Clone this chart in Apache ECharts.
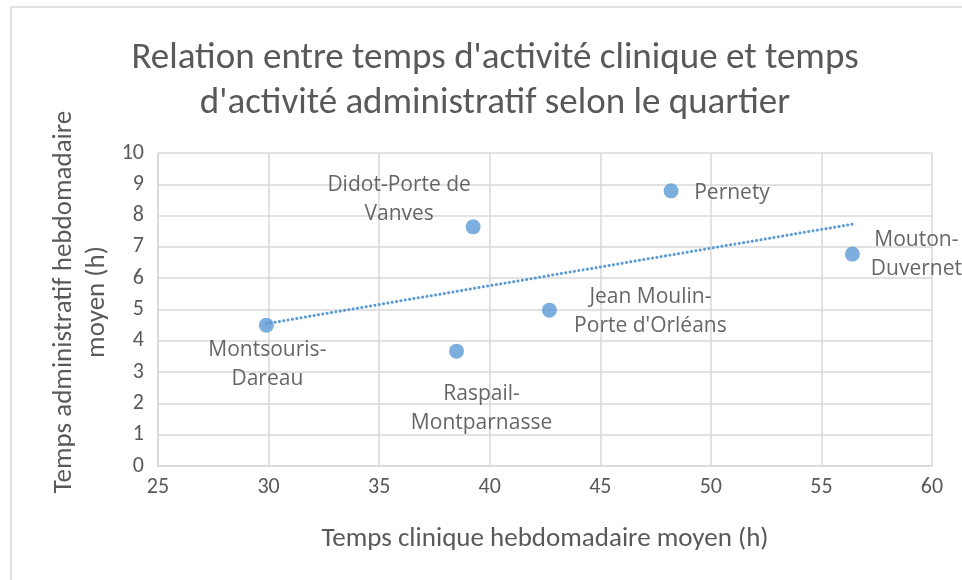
<!DOCTYPE html>
<html>
<head>
<meta charset="utf-8">
<script src="https://cdn.jsdelivr.net/npm/echarts@6/dist/echarts.min.js"></script>
<style>
html,body{margin:0;padding:0;background:#fff;}
#chart{width:962px;height:580px;}
</style>
</head>
<body>
<div id="chart"></div>
<script>
// Data
const quartiers = ["Montsouris-\nDareau", "Raspail-\nMontparnasse", "Didot-Porte de\nVanves", "Jean Moulin-\nPorte d'Orléans", "Pernety", "Mouton-\nDuvernet"];
const tempsClinique = [29.9, 38.5, 39.25, 42.7, 48.2, 56.4];
const tempsAdmin = [4.5, 3.67, 7.64, 4.98, 8.79, 6.77];
const xTicks = [25, 30, 35, 40, 45, 50, 55, 60];
const yTicks = [0, 1, 2, 3, 4, 5, 6, 7, 8, 9, 10];

// label placement (style only)
const labelOffsets = [[1, 39], [25, 57], [-74, -27], [101, 1], [61, 2], [64, 0]];

// linear trendline (least squares) from data
const n = tempsClinique.length;
const mx = tempsClinique.reduce((a, b) => a + b, 0) / n;
const my = tempsAdmin.reduce((a, b) => a + b, 0) / n;
let sxy = 0, sxx = 0;
for (let i = 0; i < n; i++) { sxy += (tempsClinique[i] - mx) * (tempsAdmin[i] - my); sxx += (tempsClinique[i] - mx) ** 2; }
const slope = sxy / sxx, icpt = my - slope * mx;
const xmin = Math.min(...tempsClinique), xmax = Math.max(...tempsClinique);
const trend = [[xmin, icpt + slope * xmin], [xmax, icpt + slope * xmax]];

const axisFont = "Carlito, 'Liberation Sans Narrow', 'Open Sans', sans-serif";
const labelFont = "'Open Sans', 'Noto Sans', sans-serif";
const gridColor = '#d9d9d9';
const textColor = '#595959';

const chart = echarts.init(document.getElementById('chart'), null, { renderer: 'canvas' });
chart.setOption({
  backgroundColor: '#fff',
  animation: false,
  graphic: [{
    type: 'rect', shape: { x: 11, y: 7, width: 980, height: 600 },
    style: { fill: 'none', stroke: gridColor, lineWidth: 1.5 }, silent: true, z: -1
  }],
  title: {
    text: "Relation entre temps d'activité clinique et temps\nd'activité administratif selon le quartier",
    left: 490, top: 31, textAlign: 'center',
    textStyle: { fontFamily: axisFont, fontSize: 37, fontWeight: 'normal', color: textColor, lineHeight: 45 }
  },
  grid: { left: 158, right: 30, top: 153, bottom: 114 },
  xAxis: {
    type: 'value', min: xTicks[0], max: xTicks[xTicks.length - 1], interval: 5,
    name: 'Temps clinique hebdomadaire moyen (h)', nameLocation: 'middle', nameGap: 60,
    nameTextStyle: { fontFamily: axisFont, fontSize: 27, color: textColor },
    axisLine: { show: true, lineStyle: { color: gridColor, width: 1.5 } },
    axisTick: { show: false },
    axisLabel: { fontFamily: axisFont, fontSize: 22, color: textColor, margin: 10 },
    splitLine: { show: true, lineStyle: { color: gridColor, width: 1.5 } }
  },
  yAxis: {
    type: 'value', min: yTicks[0], max: yTicks[yTicks.length - 1], interval: 1,
    name: 'Temps administratif hebdomadaire\nmoyen (h)', nameLocation: 'middle', nameGap: 44,
    nameMoveOverlap: false,
    nameTextStyle: { fontFamily: axisFont, fontSize: 27, color: textColor, lineHeight: 33, padding: [0, 0, 0, 15] },
    axisLine: { show: true, lineStyle: { color: gridColor, width: 1.5 } },
    axisTick: { show: false },
    axisLabel: { fontFamily: axisFont, fontSize: 22, color: textColor, margin: 14 },
    splitLine: { show: true, lineStyle: { color: gridColor, width: 1.5 } }
  },
  series: [
    {
      type: 'line', data: trend, symbol: 'none', silent: true, z: 1,
      lineStyle: { color: '#5b9bd5', width: 3, type: [0.1, 4.3], cap: 'round' }
    },
    {
      type: 'scatter', symbolSize: 15, z: 3,
      itemStyle: { color: '#5b9bd5' },
      data: tempsClinique.map((x, i) => ({
        value: [x, tempsAdmin[i]], name: quartiers[i],
        label: { show: true, position: 'inside', offset: labelOffsets[i], formatter: '{b}',
          fontFamily: labelFont, fontSize: 21, color: '#404040', lineHeight: 29, align: 'center', verticalAlign: 'middle' }
      }))
    }
  ]
});
</script>
</body>
</html>
